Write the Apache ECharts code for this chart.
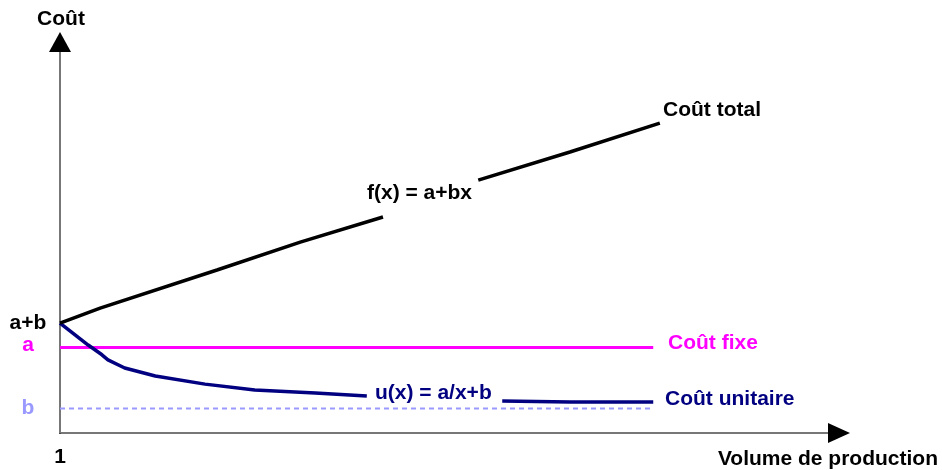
<!DOCTYPE html>
<html lang="fr">
<head>
    <meta charset="UTF-8">
    <title>Coût total, fixe et unitaire</title>
    <script src="https://cdn.jsdelivr.net/npm/echarts@6/dist/echarts.min.js"></script>
    <style>
        * {padding: 0; margin: 0;}
        body {background: #fff;}
        #main {width: 942px; height: 470px;}
    </style>
</head>
<body>
    <div id="main"></div>

    <script>
        // values (x: volume, y: cost, schematic units)
        const totalCost = [[1, 4.5], [1.67, 5.11], [3.62, 6.67], [5.01, 7.81], [6.39, 8.84],
                           [7.2, '-'],
                           [7.98, 10.35], [9.51, 11.5], [11.01, 12.68]];
        const fixedCost = [[1, 3.5], [10.9, 3.5]];
        const unitCost = [[1, 4.5], [1.47, 3.6], [1.7, 3.2], [1.8, 2.99], [2.08, 2.66], [2.59, 2.33],
                          [3.42, 2.0], [4.25, 1.76], [5.26, 1.64], [6.12, 1.51],
                          [7.2, '-'],
                          [8.38, 1.31], [9.51, 1.27], [10.9, 1.27]];
        const floorB = [[1, 1], [10.9, 1]];
        const yTicks = [1, 3.5, 4.5];
        const yTickNames = {1: '{b|b}', 3.5: '{a|a}', 4.5: '{ab|a+b}'};
        const xTicks = [1];

        const font = "'Liberation Sans', Arial, sans-serif";
        const txt = (str, x, y, color, align) => ({
            type: 'text', x: x, y: y,
            style: {text: str, fill: color, font: 'bold 21px ' + font,
                    align: align || 'left', verticalAlign: 'middle'}
        });

        // gray axis line, plus a hidden-line axis on top that only carries the black arrow head
        const axisBase = (min, max) => ({
            type: 'value', min: min, max: max,
            splitLine: {show: false},
            axisTick: {show: false}
        });

        const chart = echarts.init(document.getElementById('main'));
        chart.setOption({
            animation: false,
            grid: {left: 60, right: 103, top: 42, bottom: 37},
            xAxis: [
                Object.assign(axisBase(1, 14), {
                    axisLine: {onZero: false, lineStyle: {color: '#777', width: 2}},
                    axisLabel: {customValues: xTicks, margin: 14, color: '#000',
                                fontFamily: font, fontWeight: 'bold', fontSize: 21}
                }),
                Object.assign(axisBase(1, 14), {
                    position: 'bottom',
                    axisLabel: {show: false},
                    axisLine: {onZero: false, symbol: ['none', 'triangle'], symbolSize: [20, 22],
                               lineStyle: {color: '#000', width: 1, type: [0, 3000]}}
                })
            ],
            yAxis: [
                Object.assign(axisBase(0, 16), {
                    axisLine: {show: true, onZero: false, lineStyle: {color: '#777', width: 2}},
                    axisLabel: {
                        customValues: yTicks, margin: 32, align: 'center',
                        fontFamily: font, fontWeight: 'bold', fontSize: 21,
                        formatter: v => yTickNames[v],
                        rich: {
                            ab: {color: '#000', fontFamily: font, fontWeight: 'bold', fontSize: 21},
                            a: {color: '#ff00ff', fontFamily: font, fontWeight: 'bold', fontSize: 21, padding: [0, 0, 4, 0]},
                            b: {color: '#9999ff', fontFamily: font, fontWeight: 'bold', fontSize: 21}
                        }
                    }
                }),
                Object.assign(axisBase(0, 16), {
                    position: 'left',
                    axisLabel: {show: false},
                    axisLine: {show: true, onZero: false, symbol: ['none', 'triangle'], symbolSize: [22, 20],
                               lineStyle: {color: '#000', width: 1, type: [0, 3000]}}
                })
            ],
            series: [
                {type: 'line', data: floorB, symbol: 'none',
                 lineStyle: {color: '#9999ff', width: 2, type: [5, 4]}},
                {type: 'line', data: fixedCost, symbol: 'none',
                 lineStyle: {color: '#ff00ff', width: 3}},
                {type: 'line', data: unitCost, symbol: 'none', connectNulls: false,
                 lineStyle: {color: '#000080', width: 3.5}},
                {type: 'line', data: totalCost, symbol: 'none', connectNulls: false,
                 lineStyle: {color: '#000', width: 3.5}}
            ],
            graphic: [
                txt('Coût', 61, 19, '#000', 'center'),
                txt('Coût total', 663, 110, '#000'),
                txt('f(x) = a+bx', 367, 193, '#000'),
                txt('Coût fixe', 668, 343, '#ff00ff'),
                txt('u(x) = a/x+b', 375, 393, '#000080'),
                txt('Coût unitaire', 665, 399, '#000080'),
                txt('Volume de production', 938, 459, '#000', 'right')
            ]
        });
    </script>
</body>
</html>
